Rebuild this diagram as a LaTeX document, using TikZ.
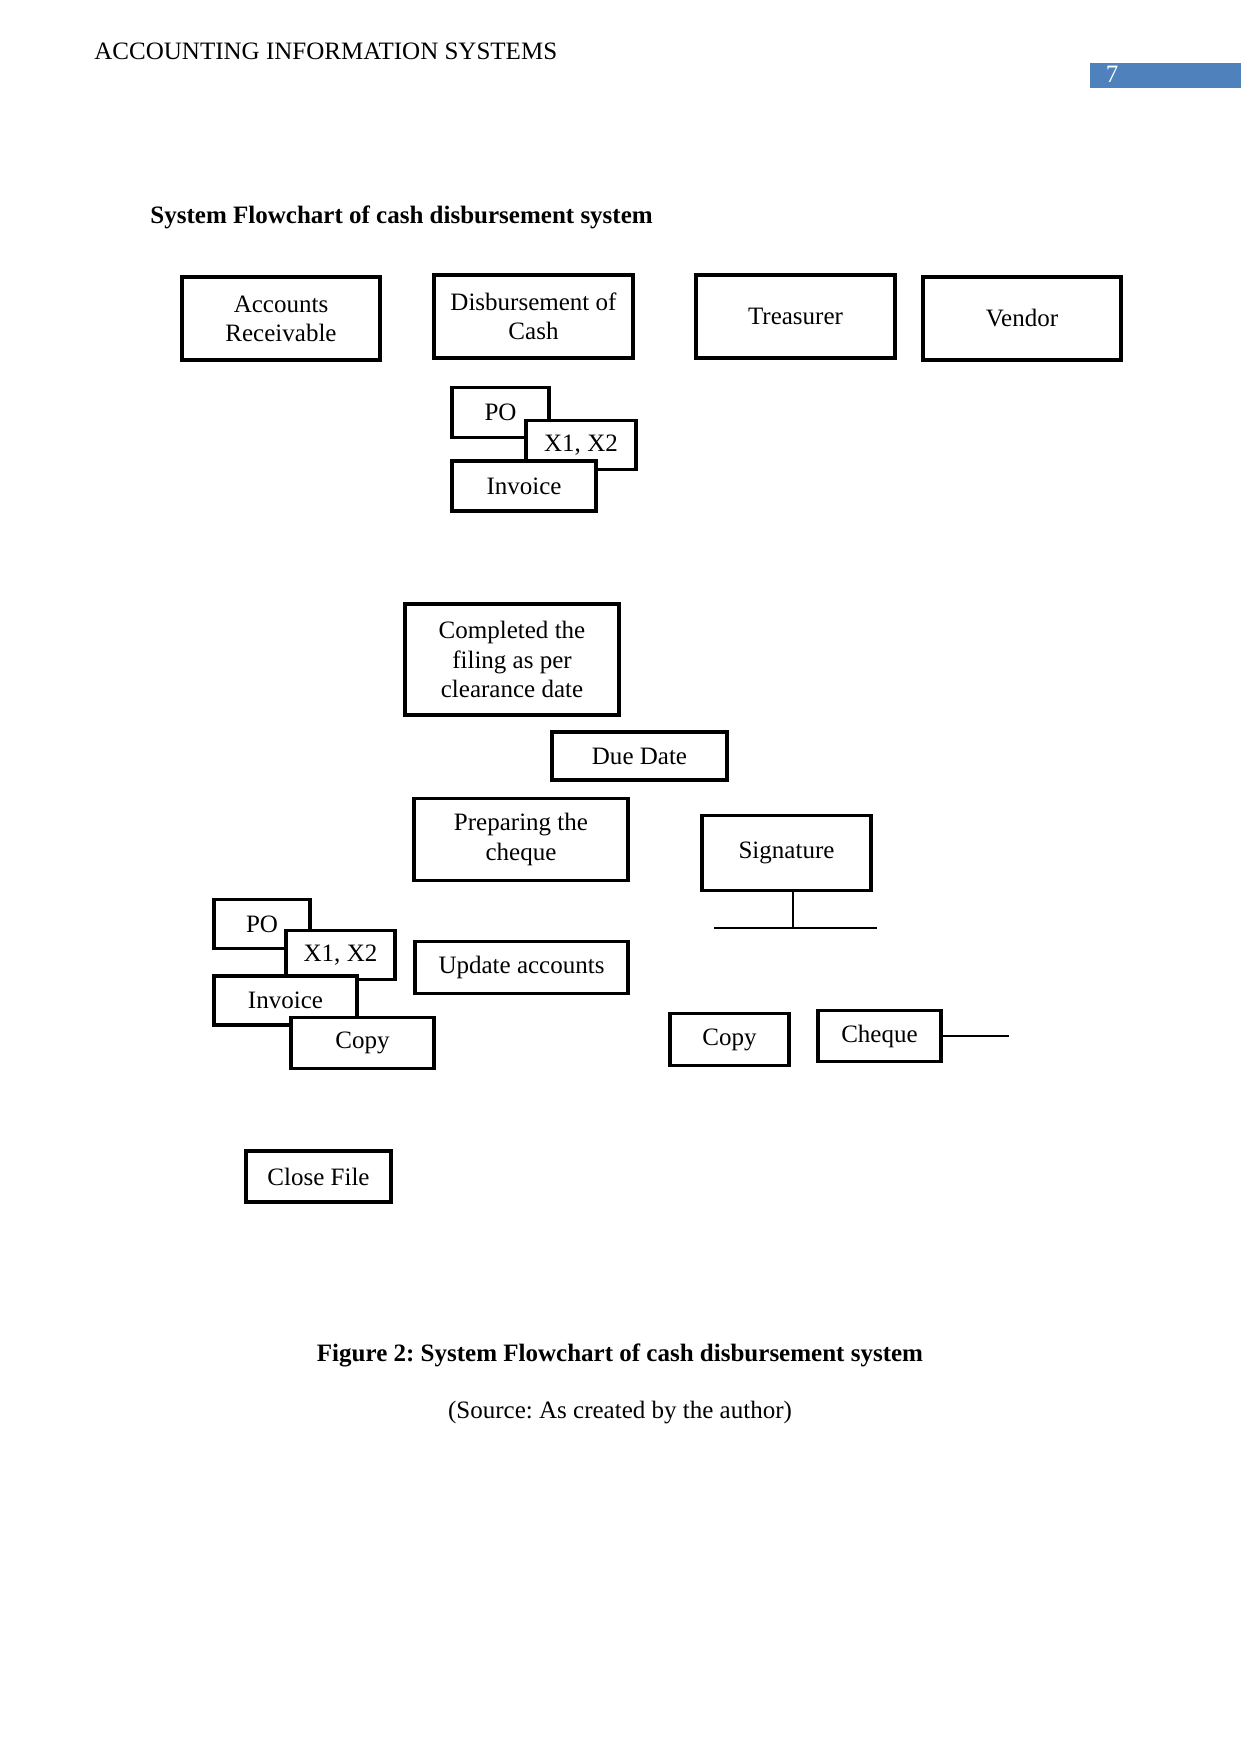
\documentclass[tikz,border=0pt]{standalone}
\usepackage{fontspec}
\setmainfont{Liberation Serif}
\usepackage{tikz}
\usetikzlibrary{calc}
\frenchspacing
\definecolor{pageblue}{HTML}{4F81BD}
\tikzset{
    every picture/.style={line join=miter},
    flowbox/.style={draw=black,fill=white,line width=1.5pt,inner sep=2pt,
      font=\fontsize{12}{14}\selectfont,align=center},
    boxsize/.style 2 args={minimum width=#1*0.4797pt,minimum height=#2*0.4797pt},
    thinline/.style={draw=black,line width=0.6pt},
    pagetext/.style={font=\fontsize{12}{14}\selectfont,inner sep=0pt}
}

\begin{document}
\begin{tikzpicture}[x=0.4797pt,y=-0.4797pt]
  \useasboundingbox (0,0) rectangle (1241,1754);
  % page head
  \node[pagetext,anchor=base west] (head) at (94,60){ACCOUNTING INFORMATION SYSTEMS};
  \fill[pageblue] (1090,63) rectangle (1241,88);
  \node[pagetext,anchor=base,text=white] (pnum) at (1112,83){7};
  \node[pagetext,anchor=base west,font=\fontsize{12}{14}\selectfont\bfseries] (title) at (150,223)
    {System Flowchart of cash disbursement system};
  % columns
  \node[flowbox,boxsize={198}{83}] (acc) at (281,318.5){Accounts\\Receivable};
  \node[flowbox,boxsize={199}{83}] (disb) at (533.5,316.5){Disbursement of\\Cash};
  \node[flowbox,boxsize={199}{83}] (treas) at (795.5,316.5){Treasurer};
  \node[flowbox,boxsize={198}{83}] (vend) at (1022,318.5){Vendor};
  % documents received
  \node[flowbox,boxsize={97}{50}] (poA) at (500.5,412.5){PO};
  \node[flowbox,boxsize={110}{49}] (xA) at (581,445){X1, X2};
  \node[flowbox,boxsize={144}{50}] (invA) at (524,486){Invoice};
  % processing
  \node[flowbox,boxsize={214}{111}] (filing) at (512,659.5){Completed the\\filing as per\\clearance date};
  \node[flowbox,boxsize={175}{48}] (due) at (639.5,756){Due Date};
  \node[flowbox,boxsize={214}{82}] (prep) at (521,839.5){Preparing the\\cheque};
  \node[flowbox,boxsize={169}{75}] (sig) at (786.5,853){Signature};
  \node[flowbox,boxsize={213}{52}] (upd) at (521.5,967.5){Update accounts};
  % filed documents
  \node[flowbox,boxsize={96}{49}] (poB) at (262,924){PO};
  \node[flowbox,boxsize={109}{49}] (xB) at (340.5,955){X1, X2};
  \node[flowbox,boxsize={143}{49}] (invB) at (285.5,1000.5){Invoice};
  \node[flowbox,boxsize={143}{51}] (copyA) at (362.5,1043){Copy};
  \node[flowbox,boxsize={145}{51}] (close) at (318.5,1176.5){Close File};
  % outputs of treasurer
  \node[flowbox,boxsize={119}{52}] (copyB) at (729.5,1039.5){Copy};
  \node[flowbox,boxsize={123}{51}] (chq) at (879.5,1036){Cheque};
  \coordinate (sigfoot) at (793,928);
  \coordinate (splitL) at (714,928);
  \coordinate (splitR) at (877,928);
  \coordinate (chqend) at (1009,1036);
  \draw[thinline] (sigfoot|-sig.south) -- (sigfoot);
  \draw[thinline] (splitL) -- (splitR);
  \draw[thinline] (chq.east) -- (chqend);
  % caption
  \node[pagetext,anchor=base,font=\fontsize{12}{14}\selectfont\bfseries] (cap) at (620,1361)
    {Figure 2: System Flowchart of cash disbursement system};
  \node[pagetext,anchor=base] (src) at (620,1418){(Source: As created by the author)};
\end{tikzpicture}
\end{document}
